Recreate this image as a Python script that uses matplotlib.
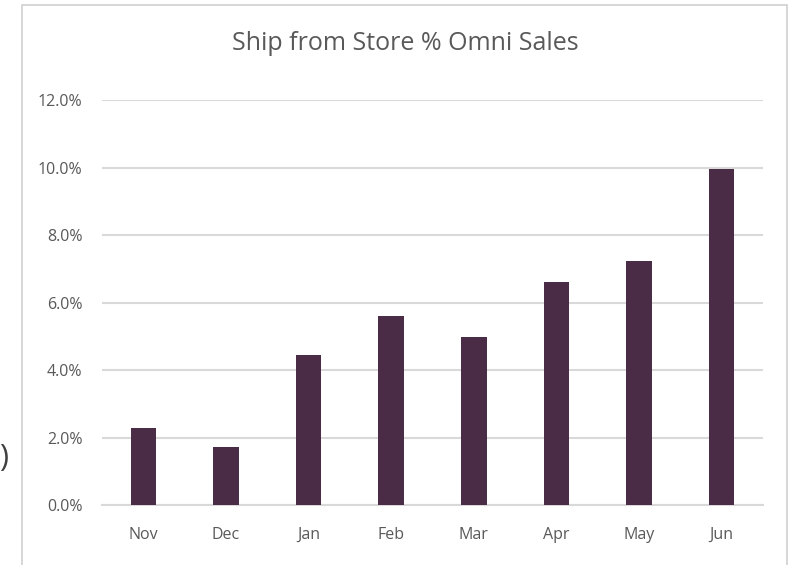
import numpy as np
import matplotlib
matplotlib.use("Agg")
import matplotlib.pyplot as plt
from matplotlib.patches import Rectangle
from matplotlib.ticker import FuncFormatter

plt.rcParams['font.family'] = ['Open Sans', 'DejaVu Sans']

months = ["Nov", "Dec", "Jan", "Feb", "Mar", "Apr", "May", "Jun"]
share = [2.28, 1.72, 4.44, 5.60, 4.99, 6.62, 7.22, 9.95]
yticks = [0, 2, 4, 6, 8, 10, 12]

bar_color = "#4a2c47"
text_gray = "#595959"
grid_gray = "#d9d9d9"

fig = plt.figure(figsize=(7.93, 5.65), dpi=100)
ax = fig.add_axes([102/793, 60/565, 661/793, 405/565])

x = np.arange(len(months))
ax.bar(x, share, width=0.31, color=bar_color, zorder=3)

ax.set_xlim(-0.5, len(months) - 0.5)
ax.set_ylim(0, 12)
ax.set_yticks(yticks)
ax.yaxis.set_major_formatter(FuncFormatter(lambda v, p: f"{v:.1f}%"))
ax.set_xticks(x)
ax.set_xticklabels(months)

ax.grid(axis='y', color=grid_gray, linewidth=1.5, zorder=0)
for s in ['top', 'right', 'left']:
    ax.spines[s].set_visible(False)
ax.spines['bottom'].set_color(grid_gray)
ax.spines['bottom'].set_linewidth(1.5)
ax.tick_params(axis='both', length=0, colors=text_gray, labelsize=11.5)
ax.tick_params(axis='y', pad=14)
ax.tick_params(axis='x', pad=16)

fig.text(405/793, 1 - 44/565, "Ship from Store % Omni Sales",
         ha='center', va='center', fontsize=18, color=text_gray)

# outer chart frame
fig.patches.append(Rectangle((22/793, -0.01), 765/793, 1 - 5/565 + 0.01,
                             transform=fig.transFigure, fill=False,
                             edgecolor="#d0d0d0", linewidth=1.2))

fig.text(8/793, 1 - 458/565, ")", ha='right', va='center',
         fontsize=22, color="#404040")

fig.savefig("out.png", dpi=100)
